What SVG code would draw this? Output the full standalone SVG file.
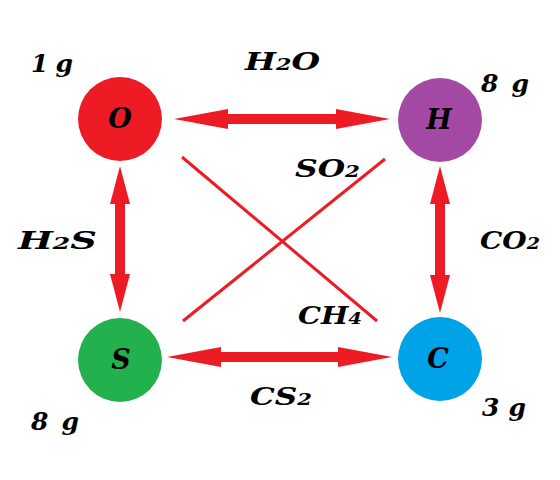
<svg xmlns="http://www.w3.org/2000/svg" width="560" height="480" viewBox="0 0 560 480">
<defs>
<marker id="ahh" markerUnits="userSpaceOnUse" markerWidth="56" markerHeight="24" viewBox="0 0 56 24" refX="0" refY="12" orient="auto-start-reverse">
<path d="M0,2 L54,12 L0,22 z" fill="#ED1C24"/>
</marker>
<marker id="ahv" markerUnits="userSpaceOnUse" markerWidth="40" markerHeight="24" viewBox="0 0 40 24" refX="0" refY="12" orient="auto-start-reverse">
<path d="M0,2 L38,12 L0,22 z" fill="#ED1C24"/>
</marker>
<style>
.arrow{stroke:#ED1C24;stroke-width:10;fill:none}
.h{marker-start:url(#ahh);marker-end:url(#ahh)}
.v{marker-start:url(#ahv);marker-end:url(#ahv)}
.thin{stroke:#ED1C24;stroke-width:3;fill:none}
text{font-family:"DejaVu Serif","Liberation Serif",serif;font-weight:bold;font-style:italic;fill:#000}
.lbl{font-size:25px}
.node{font-size:27px;text-anchor:middle}
.sub{font-size:17px}
</style>
</defs>
<rect width="560" height="480" fill="#fff"/>
<g id="connectors">
<line class="arrow h" x1="228" y1="119" x2="336" y2="119"/>
<line class="arrow h" x1="221" y1="357" x2="338" y2="357"/>
<line class="arrow v" x1="120" y1="204" x2="120" y2="274"/>
<line class="arrow v" x1="440" y1="204" x2="440" y2="275"/>
<line class="thin" x1="182" y1="157" x2="377" y2="321"/>
<line class="thin" x1="385" y1="159" x2="183" y2="321"/>
</g>
<g id="node-O"><circle cx="120" cy="119" r="42" fill="#ED1C24"/><text class="node" x="120" y="128">O</text></g>
<g id="node-H"><circle cx="440" cy="120" r="42" fill="#A349A4"/><text class="node" x="439" y="129">H</text></g>
<g id="node-S"><circle cx="120" cy="360" r="42" fill="#22B14C"/><text class="node" x="121" y="369">S</text></g>
<g id="node-C"><circle cx="440" cy="359" r="42" fill="#00A2E8"/><text class="node" x="438" y="368">C</text></g>
<g id="labels">
<text class="lbl" x="31" y="72" textLength="42" lengthAdjust="spacing">1 g</text>
<text class="lbl" x="481" y="92" textLength="48" lengthAdjust="spacing">8 g</text>
<text class="lbl" x="31" y="430" textLength="48" lengthAdjust="spacing">8 g</text>
<text class="lbl" x="482" y="416" textLength="44" lengthAdjust="spacing">3 g</text>
<text class="lbl" x="245" y="70" textLength="75" lengthAdjust="spacingAndGlyphs">H<tspan class="sub">2</tspan>O</text>
<text class="lbl" x="295" y="177" textLength="65" lengthAdjust="spacingAndGlyphs">SO<tspan class="sub">2</tspan></text>
<text class="lbl" x="18" y="249" textLength="79" lengthAdjust="spacingAndGlyphs">H<tspan class="sub">2</tspan>S</text>
<text class="lbl" x="480" y="249" textLength="60" lengthAdjust="spacingAndGlyphs">CO<tspan class="sub">2</tspan></text>
<text class="lbl" x="298" y="324" textLength="64" lengthAdjust="spacingAndGlyphs">CH<tspan class="sub">4</tspan></text>
<text class="lbl" x="250" y="405" textLength="62" lengthAdjust="spacingAndGlyphs">CS<tspan class="sub">2</tspan></text>
</g>
</svg>
